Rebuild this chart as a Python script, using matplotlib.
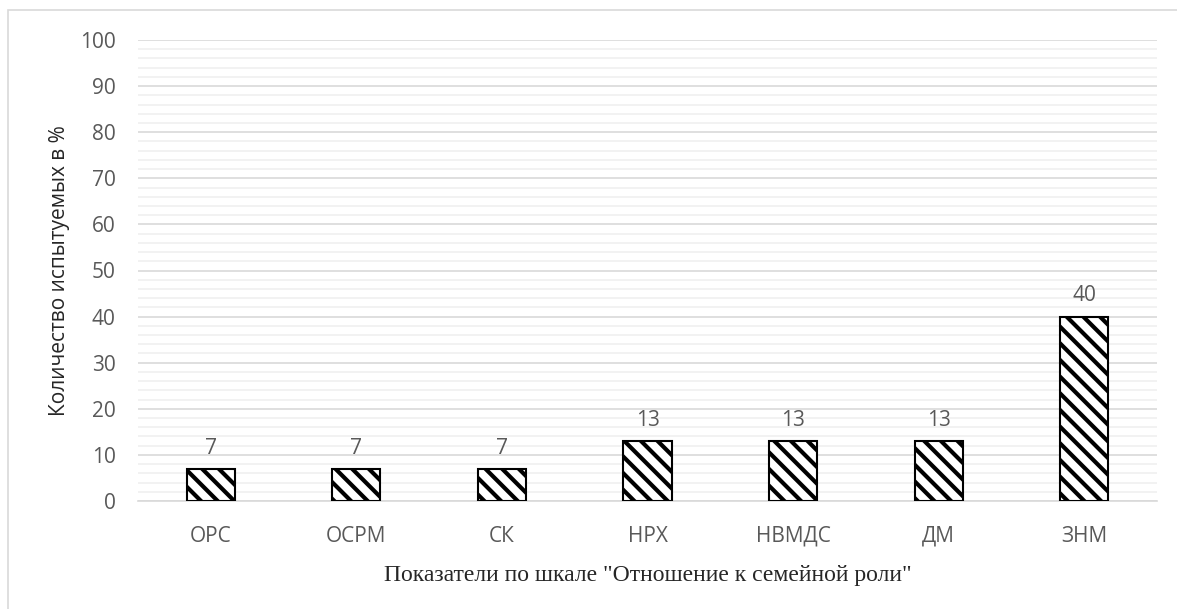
import matplotlib.pyplot as plt
from matplotlib.patches import Rectangle
from matplotlib.ticker import MultipleLocator

categories = ['ОРС', 'ОСРМ', 'СК', 'НРХ', 'НВМДС', 'ДМ', 'ЗНМ']
values = [7, 7, 7, 13, 13, 13, 40]

plt.rcParams['hatch.linewidth'] = 3.0
gray = '#595959'

fig = plt.figure(figsize=(11.77, 6.09), dpi=100)
ax = fig.add_axes([138 / 1177, 1 - 501 / 609, 1019 / 1177, 461 / 609])

# рамка диаграммы (видны только левая и верхняя стороны)
fig.patches.append(Rectangle((8 / 1177, -0.1), 1.2, 1 - 10 / 609 + 0.1,
                             transform=fig.transFigure, fill=False,
                             edgecolor='#d9d9d9', linewidth=1.2))

x = range(len(categories))
bars = ax.bar(x, values, width=0.33, color='white', edgecolor='black',
              linewidth=1.5, hatch='\\\\', zorder=3)
for b, v in zip(bars, values):
    ax.text(b.get_x() + b.get_width() / 2, v + 2.2, str(v), ha='center',
            va='bottom', fontsize=15, color=gray, family='Open Sans')

ax.set_xlim(-0.5, len(categories) - 0.5)
ax.set_ylim(0, 100)
ax.yaxis.set_major_locator(MultipleLocator(10))
ax.yaxis.set_minor_locator(MultipleLocator(2))
ax.grid(axis='y', which='major', color='#d9d9d9', linewidth=1.2, zorder=0)
ax.grid(axis='y', which='minor', color='#f0f0f0', linewidth=1.2, zorder=0)
ax.set_axisbelow(True)

for s in ['left', 'right', 'top']:
    ax.spines[s].set_visible(False)
ax.spines['bottom'].set_color('#d9d9d9')
ax.spines['bottom'].set_linewidth(1.2)
ax.tick_params(axis='both', which='both', length=0, colors=gray, labelsize=15)
ax.tick_params(axis='y', pad=16)
ax.tick_params(axis='x', pad=18)
ax.set_xticks(list(x))
ax.set_xticklabels(categories, family='Open Sans')
for t in ax.get_yticklabels():
    t.set_family('Open Sans')

ax.set_ylabel('Количество испытуемых в %', fontsize=15, color='#262626',
              family='Open Sans', labelpad=7)
ax.set_xlabel('Показатели по шкале "Отношение к семейной роли"', fontsize=17,
              color='#262626', family='Liberation Serif', labelpad=13)

fig.savefig('out.png', dpi=100)
